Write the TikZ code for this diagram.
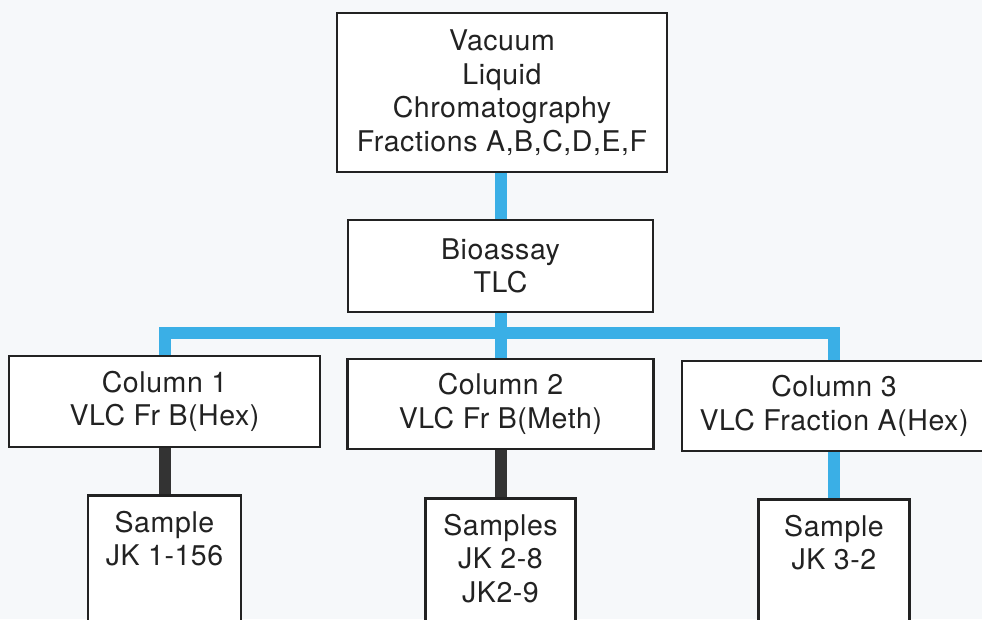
\documentclass[tikz,border=0pt]{standalone}
\usepackage{fontspec}
\setmainfont[LetterSpace=2]{TeX Gyre Heros}
\pgfdeclarelayer{bg}
\pgfdeclarelayer{conn}
\pgfsetlayers{bg,conn,main}
\definecolor{paper}{HTML}{F6F8FA}
\definecolor{ink}{HTML}{222222}
\definecolor{cyanline}{HTML}{3AAFE6}
\definecolor{darkline}{HTML}{333333}
\tikzset{
  box/.style={draw=ink, line width=2.8pt, fill=white, text=ink, align=center,
    inner sep=0pt, font=\fontsize{28.5}{33.5}\selectfont},
  samplebox/.style={box, anchor=north, text height=37pt},
  blueconn/.style={draw=cyanline, line width=12pt, line join=miter, line cap=butt},
  darkconn/.style={draw=darkline, line width=12pt, line cap=butt}
}
\newcommand{\samptext}[1]{\parbox[t][150pt][t]{146pt}{\centering #1}}
\begin{document}
\begin{tikzpicture}[x=1pt,y=-1pt]
\useasboundingbox (0,0) rectangle (982,619);
\clip (0,0) rectangle (982,619);
\begin{pgfonlayer}{bg}
\fill[paper] (0,0) rectangle (982,619);
\end{pgfonlayer}
\node[box, minimum width=330pt, minimum height=159pt] (vlc) at (502,92.5)
  {Vacuum\\Liquid\\Chromatography\\Fractions A,B,C,D,E,F};
\node[box, minimum width=305pt, minimum height=92pt] (bio) at (500.5,266)
  {Bioassay\\TLC};
\node[box, minimum width=311pt, minimum height=91pt] (c1) at (164.5,401.5)
  {Column 1\\VLC Fr B(Hex)};
\node[box, minimum width=306pt, minimum height=90pt] (c2) at (500.5,404)
  {Column 2\\VLC Fr B(Meth)};
\node[box, minimum width=304pt, minimum height=90pt] (c3) at (834,406)
  {Column 3\\VLC Fraction A(Hex)};
\node[samplebox, minimum width=153pt] (s1) at (164.5,494) {\samptext{Sample\\JK 1-156}};
\node[samplebox, minimum width=150pt] (s2) at (500.5,497) {\samptext{Samples\\JK 2-8\\JK2-9}};
\node[samplebox, minimum width=151pt] (s3) at (834,498) {\samptext{Sample\\JK 3-2}};
\coordinate (bar) at (500,333);
\begin{pgfonlayer}{conn}
\draw[blueconn] (bio.north) -- (bio.north |- vlc.south);
\draw[blueconn] (bio.south) -- (c2.north);
\draw[blueconn] (c1.north) |- (bar) -| (c3.north);
\draw[darkconn] (c1.south) -- (s1.north);
\draw[darkconn] (c2.south) -- (s2.north);
\draw[blueconn] (c3.south) -- (s3.north);
\end{pgfonlayer}
\end{tikzpicture}
\end{document}
